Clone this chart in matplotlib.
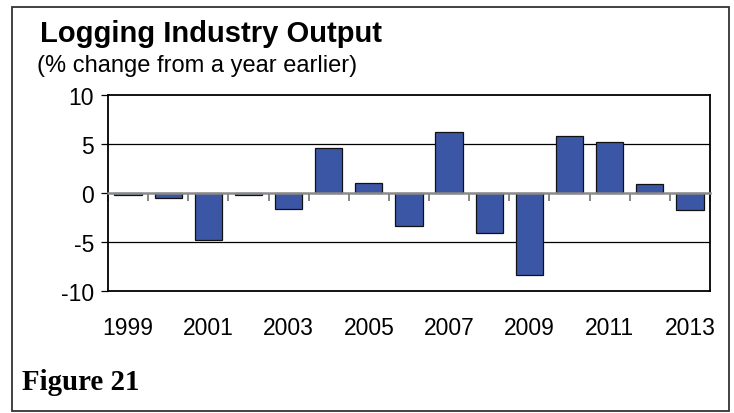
import numpy as np
import matplotlib.pyplot as plt
from matplotlib.patches import Rectangle

years = list(range(1999, 2014))
pct_change = [-0.25, -0.55, -4.8, -0.25, -1.65, 4.6, 1.05, -3.35,
              6.2, -4.1, -8.35, 5.8, 5.2, 0.95, -1.75]
year_labels = [str(y) for y in years[::2]]

plt.rcParams['font.family'] = ['Liberation Sans', 'DejaVu Sans']
plt.rcParams['axes.unicode_minus'] = False

fig = plt.figure(figsize=(7.34, 4.14), dpi=100)
ax = fig.add_axes([0.1471, 0.2947, 0.8202, 0.4734])

x = np.arange(len(years))
ax.bar(x, pct_change, width=0.68, color='#3c56a6', edgecolor='#111111',
       linewidth=0.9, zorder=3)

ax.set_xlim(-0.5, len(years) - 0.5)
ax.set_ylim(-10, 10)
ax.set_yticks([-10, -5, 0, 5, 10])
ax.tick_params(axis='y', direction='out', length=5, width=0.9,
               labelsize=16.5, pad=5, color='black')
for yv in (-5, 5):
    ax.axhline(yv, color='black', linewidth=0.9, zorder=1)

for s in ('top', 'left', 'right'):
    ax.spines[s].set_linewidth(1.3)
    ax.spines[s].set_color('black')

# category axis runs through zero, with small gray separators between years
ax.spines['bottom'].set_position(('data', 0))
ax.spines['bottom'].set_color('#8a8a8a')
ax.spines['bottom'].set_linewidth(1.8)
ax.spines['bottom'].set_zorder(4)
ax.set_xticks([])
ax.set_xticks(np.arange(-0.5, len(years)), minor=True)
ax.tick_params(axis='x', which='minor', direction='out', length=6,
               width=1.1, color='#666666')

# year labels along the bottom of the plot box
sec = ax.secondary_xaxis('bottom')
sec.set_xticks(x[::2], year_labels)
sec.tick_params(length=0, labelsize=16.5, pad=18)
sec.spines['bottom'].set_linewidth(1.3)
sec.spines['bottom'].set_color('black')

fig.text(0.0545, 0.899, 'Logging Industry Output', fontsize=21,
         fontweight='bold', va='baseline')
fig.text(0.051, 0.826, '(% change from a year earlier)', fontsize=17,
         va='baseline')
fig.text(0.030, 0.058, 'Figure 21', fontsize=20.8, fontweight='bold',
         family=['Liberation Serif', 'DejaVu Serif'], va='baseline')

fig.add_artist(Rectangle((0.0163, 0.005), 0.9769, 0.9757,
                         transform=fig.transFigure, fill=False,
                         edgecolor='#333333', linewidth=1.3))

fig.savefig('out.png', dpi=100)
